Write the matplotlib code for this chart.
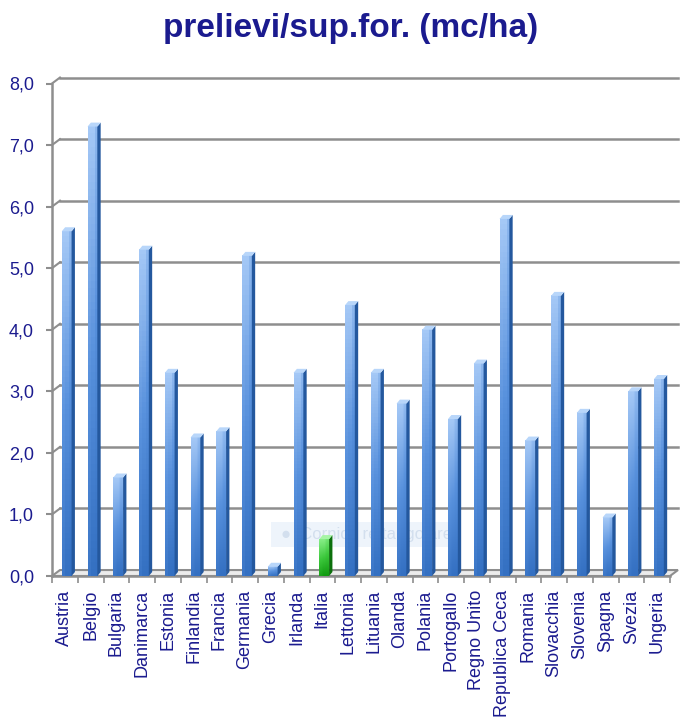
import matplotlib
matplotlib.use("Agg")
import matplotlib.pyplot as plt
import numpy as np
from matplotlib.colors import LinearSegmentedColormap
from matplotlib.patches import Polygon, Rectangle

plt.rcParams["font.family"] = ["Liberation Sans", "DejaVu Sans"]

paesi = ["Austria", "Belgio", "Bulgaria", "Danimarca", "Estonia", "Finlandia",
         "Francia", "Germania", "Grecia", "Irlanda", "Italia", "Lettonia",
         "Lituania", "Olanda", "Polania", "Portogallo", "Regno Unito",
         "Republica Ceca", "Romania", "Slovacchia", "Slovenia", "Spagna",
         "Svezia", "Ungeria"]
prelievi = [5.6, 7.3, 1.6, 5.3, 3.3, 2.25, 2.35, 5.2, 0.15, 3.3, 0.6, 4.4,
            3.3, 2.8, 4.0, 2.55, 3.45, 5.8, 2.2, 4.55, 2.65, 0.95, 3.0, 3.2]
yticks = [0, 1, 2, 3, 4, 5, 6, 7, 8]
evidenza = "Italia"

NAVY = "#1b1b8f"
GRID = "#8e8e8e"

fig = plt.figure(figsize=(6.87, 7.23), dpi=100)
ax = fig.add_axes([52 / 687, 147 / 723, 618 / 687, 492.5 / 723])
n = len(paesi)

# parete di fondo (offset 3D)
dxb, dyb = 0.31, 0.097
for v in yticks[1:]:
    ax.plot([-0.5 + dxb, n - 0.5 + dxb], [v + dyb, v + dyb], color=GRID,
            lw=1.8, clip_on=False, zorder=1)
    ax.plot([-0.5, -0.5 + dxb], [v, v + dyb], color=GRID, lw=1.5,
            clip_on=False, zorder=1)
# pavimento
floor = Polygon([(-0.5, 0), (n - 0.5, 0), (n - 0.5 + dxb, dyb), (-0.5 + dxb, dyb)],
                closed=True, facecolor="#ececec", edgecolor=GRID, lw=1.5,
                clip_on=False, zorder=1)
ax.add_patch(floor)

# riquadro sbiadito al centro
ax.add_patch(Rectangle((8.0, 0.47), 7.0, 0.4, facecolor="#eef4fb",
                       edgecolor="none", zorder=1.5))
ax.text(8.4, 0.67, "\u25cf  Cornice rettangolare", color="#d3dfee",
        fontsize=12, va="center", zorder=1.6)

blu = LinearSegmentedColormap.from_list("blu", ["#3470c2", "#5891dd", "#a4c8f6"])
verde = LinearSegmentedColormap.from_list("verde", ["#119a11", "#3cc83c", "#86ee86"])

dxs, dys = 0.13, 0.065
grad = np.linspace(0, 1, 64).reshape(-1, 1)
grad = np.hstack([grad * 0.9 + 0.1, grad, grad * 0.85])
for i, (p, v) in enumerate(zip(paesi, prelievi)):
    cm = verde if p == evidenza else blu
    side = "#0c700c" if p == evidenza else "#24589e"
    top = "#a6f5a6" if p == evidenza else "#b8d6fa"
    x0, x1 = i - 0.12, i + 0.26
    ax.imshow(grad, cmap=cm, extent=(x0, x1, 0, v), origin="lower",
              aspect="auto", zorder=3, vmin=0, vmax=1)
    ax.add_patch(Polygon([(x1, 0), (x1 + dxs, dys), (x1 + dxs, v + dys), (x1, v)],
                         closed=True, facecolor=side, edgecolor="none", zorder=3))
    ax.add_patch(Polygon([(x0, v), (x1, v), (x1 + dxs, v + dys), (x0 + dxs, v + dys)],
                         closed=True, facecolor=top, edgecolor="none", zorder=3))

ax.set_xlim(-0.5, n - 0.5)
ax.set_ylim(0, 8)

for s in ["top", "right"]:
    ax.spines[s].set_visible(False)
for s in ["left", "bottom"]:
    ax.spines[s].set_color(GRID)
    ax.spines[s].set_linewidth(1.8)
    ax.spines[s].set_zorder(2)

ax.set_yticks(yticks)
ax.set_yticklabels([f"{v:.1f}".replace(".", ",") for v in yticks],
                   color=NAVY, fontsize=13)
ax.tick_params(axis="y", length=4, width=1.5, color=GRID, pad=9)

ax.set_xticks(range(n))
ax.set_xticklabels(paesi, rotation=90, color=NAVY, fontsize=13)
ax.tick_params(axis="x", which="major", length=0, pad=10)
ax.set_xticks(np.arange(-0.5, n), minor=True)
ax.tick_params(axis="x", which="minor", length=5, width=1.2, color=GRID)

fig.text(0.51, 1 - 29 / 723, "prelievi/sup.for. (mc/ha)", ha="center",
         va="center", fontsize=24, fontweight="bold", color=NAVY)

fig.savefig("out.png", dpi=100)
